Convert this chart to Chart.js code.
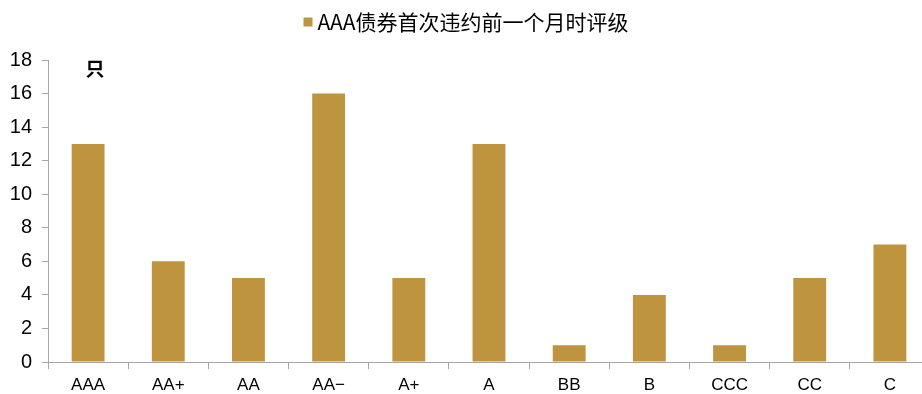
<!DOCTYPE html>
<html>
<head>
<meta charset="utf-8">
<script src="https://cdn.jsdelivr.net/npm/chart.js@4"></script>
<style>
    html, body { margin: 0; padding: 0; background: #fff; overflow: hidden; }
    #wrap { width: 930px; height: 394px; position: relative; }
</style>
</head>
<body>
<div id="wrap"><canvas id="ratingChart"></canvas></div>
<script>
    const ratings = ['AAA', 'AA+', 'AA', 'AA−', 'A+', 'A', 'BB', 'B', 'CCC', 'CC', 'C'];
    const bondCounts = [13, 6, 5, 16, 5, 13, 1, 4, 1, 5, 7];
    const yTicks = [0, 2, 4, 6, 8, 10, 12, 14, 16, 18];
    const seriesName = 'AAA债券首次违约前一个月时评级';
    const unitLabel = '只';

    const BAR_COLOR = '#BF943E';
    const AXIS_COLOR = '#A6A6A6';

    // legend drawn by hand: small square swatch and title, centred above the plot
    const headerPlugin = {
        id: 'header',
        afterDraw(chart) {
            const ctx = chart.ctx;
            ctx.save();
            ctx.font = '21px "Noto Sans CJK SC", "Liberation Sans"';
            const textWidth = ctx.measureText(seriesName).width;
            const box = 9;
            const gap = 5;
            const total = box + gap + textWidth;
            const startX = 466 - total / 2;
            const centerY = 22;
            ctx.fillStyle = chart.data.datasets[0].backgroundColor;
            ctx.fillRect(startX, centerY - box / 2, box, box);
            ctx.fillStyle = '#000';
            ctx.textAlign = 'left';
            ctx.textBaseline = 'middle';
            ctx.fillText(seriesName, startX + box + gap, centerY);

            // unit label in the top-left corner of the plot
            const area = chart.chartArea;
            ctx.font = 'bold 19px "Noto Sans CJK SC"';
            ctx.textAlign = 'center';
            ctx.fillText(unitLabel, area.left + 47, area.top + 9);
            ctx.restore();
        }
    };

    new Chart(document.getElementById('ratingChart'), {
        type: 'bar',
        data: {
            labels: ratings,
            datasets: [
                {
                    label: seriesName,
                    data: bondCounts,
                    backgroundColor: BAR_COLOR,
                    borderWidth: 0,
                    barPercentage: 0.41,
                    categoryPercentage: 1
                }
            ]
        },
        options: {
            responsive: true,
            maintainAspectRatio: false,
            animation: false,
            layout: {
                padding: { top: 60, left: 0, right: 0, bottom: 0 }
            },
            scales: {
                x: {
                    afterFit(scale) {
                        scale.height = 32;
                    },
                    grid: {
                        drawOnChartArea: false,
                        color: AXIS_COLOR,
                        tickLength: 7
                    },
                    border: { color: AXIS_COLOR },
                    ticks: {
                        color: '#000',
                        padding: 6,
                        maxRotation: 0,
                        font: { family: '"Liberation Sans Narrow", "Liberation Sans"', size: 17 }
                    }
                },
                y: {
                    min: 0,
                    max: 18,
                    afterBuildTicks(scale) {
                        scale.ticks = yTicks.map(value => ({ value }));
                    },
                    afterFit(scale) {
                        scale.width = 48;
                    },
                    grid: {
                        drawOnChartArea: false,
                        color: AXIS_COLOR,
                        tickLength: 6
                    },
                    border: { color: AXIS_COLOR },
                    ticks: {
                        color: '#000',
                        padding: 10,
                        font: { family: '"Liberation Sans", Arial', size: 20 }
                    }
                }
            },
            plugins: {
                legend: { display: false },
                tooltip: { enabled: false }
            }
        },
        plugins: [headerPlugin]
    });
</script>
</body>
</html>
